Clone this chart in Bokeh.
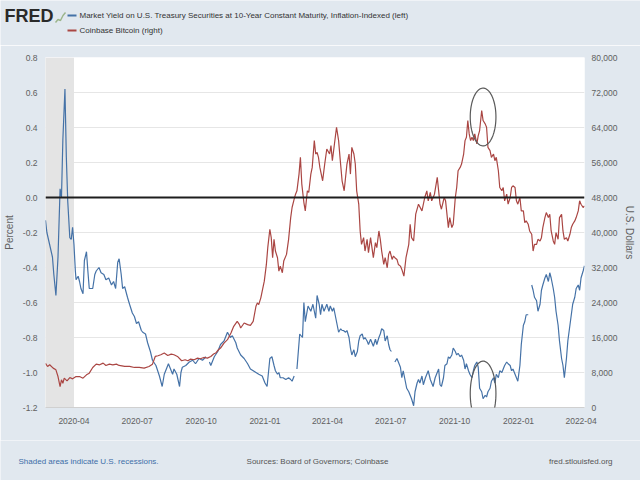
import numpy as np
import pandas as pd
from bokeh.plotting import figure
from bokeh.layouts import column
from bokeh.models import (ColumnDataSource, Range1d, LinearAxis, Span, BoxAnnotation,
                          FixedTicker, DatetimeTickFormatter, NumeralTickFormatter, PolyAnnotation)
from bokeh.core.properties import value
from bokeh.embed import file_html
from bokeh.resources import INLINE

# 10-year TIPS market yield (percent); None marks market holidays
YIELD_DATES = [
    "2020-02-20", "2020-02-22", "2020-02-26", "2020-03-01", "2020-03-03", "2020-03-06", "2020-03-09",
    "2020-03-12", "2020-03-14", "2020-03-16", "2020-03-19", "2020-03-21", "2020-03-23", "2020-03-26",
    "2020-03-28", "2020-03-30", "2020-04-01", "2020-04-03", "2020-04-04", "2020-04-07", "2020-04-09",
    "2020-04-11", "2020-04-14", "2020-04-16", "2020-04-19", "2020-04-21", "2020-04-23", "2020-04-28",
    "2020-05-01", "2020-05-03", "2020-05-07", "2020-05-10", "2020-05-14", "2020-05-17", "2020-05-21",
    "2020-05-25", "2020-05-28", "2020-05-31", "2020-06-03", "2020-06-05", "2020-06-08", "2020-06-10",
    "2020-06-13", "2020-06-15", "2020-06-17", "2020-06-20", "2020-06-24", "2020-06-27", "2020-06-30",
    "2020-07-03", "2020-07-07", "2020-07-09", "2020-07-13", "2020-07-16", "2020-07-20", "2020-07-23",
    "2020-07-28", "2020-08-02", "2020-08-06", "2020-08-09", "2020-08-12", "2020-08-15", "2020-08-18",
    "2020-08-21", "2020-08-23", "2020-08-27", "2020-08-31", "2020-09-02", "2020-09-04", "2020-09-09",
    "2020-09-14", "2020-09-19", "2020-09-23", "2020-09-28", "2020-10-03", "2020-10-08", "2020-10-12",
    "2020-10-13", "2020-10-15", "2020-10-20", "2020-10-25", "2020-10-29", "2020-11-03", "2020-11-08",
    "2020-11-12", "2020-11-15", "2020-11-20", "2020-11-22", "2020-11-27", "2020-12-02", "2020-12-07",
    "2020-12-11", "2020-12-19", "2020-12-23", "2020-12-28", "2021-01-01", "2021-01-04", "2021-01-08",
    "2021-01-11", "2021-01-14", "2021-01-16", "2021-01-19", "2021-01-21", "2021-01-23", "2021-01-27",
    "2021-01-31", "2021-02-04", "2021-02-07", "2021-02-09", "2021-02-12", "2021-02-14", "2021-02-16",
    "2021-02-20", "2021-02-24", "2021-02-26", "2021-02-28", "2021-03-04", "2021-03-08", "2021-03-11",
    "2021-03-15", "2021-03-17", "2021-03-20", "2021-03-22", "2021-03-24", "2021-03-27", "2021-03-29",
    "2021-03-31", "2021-04-03", "2021-04-05", "2021-04-08", "2021-04-10", "2021-04-12", "2021-04-15",
    "2021-04-17", "2021-04-20", "2021-04-22", "2021-04-24", "2021-04-27", "2021-04-29", "2021-05-02",
    "2021-05-04", "2021-05-06", "2021-05-09", "2021-05-11", "2021-05-14", "2021-05-16", "2021-05-18",
    "2021-05-21", "2021-05-23", "2021-05-25", "2021-05-28", "2021-05-30", "2021-06-02", "2021-06-04",
    "2021-06-06", "2021-06-09", "2021-06-11", "2021-06-14", "2021-06-16", "2021-06-18", "2021-06-21",
    "2021-06-23", "2021-06-26", "2021-06-28", "2021-06-30", "2021-07-02", "2021-07-05", "2021-07-07",
    "2021-07-10", "2021-07-12", "2021-07-15", "2021-07-17", "2021-07-19", "2021-07-22", "2021-07-24",
    "2021-07-27", "2021-07-29", "2021-07-31", "2021-08-03", "2021-08-05", "2021-08-08", "2021-08-10",
    "2021-08-12", "2021-08-15", "2021-08-17", "2021-08-20", "2021-08-22", "2021-08-24", "2021-08-27",
    "2021-08-29", "2021-08-31", "2021-09-03", "2021-09-05", "2021-09-08", "2021-09-10", "2021-09-12",
    "2021-09-15", "2021-09-17", "2021-09-20", "2021-09-22", "2021-09-24", "2021-09-27", "2021-09-29",
    "2021-10-02", "2021-10-04", "2021-10-06", "2021-10-09", "2021-10-11", "2021-10-14", "2021-10-16",
    "2021-10-18", "2021-10-21", "2021-10-23", "2021-10-26", "2021-10-28", "2021-10-30", "2021-11-02",
    "2021-11-04", "2021-11-06", "2021-11-09", "2021-11-11", "2021-11-14", "2021-11-16", "2021-11-18",
    "2021-11-21", "2021-11-23", "2021-11-26", "2021-11-28", "2021-11-30", "2021-12-03", "2021-12-05",
    "2021-12-08", "2021-12-10", "2021-12-12", "2021-12-15", "2021-12-17", "2021-12-20", "2021-12-22",
    "2021-12-24", "2021-12-27", "2021-12-29", "2021-12-31", "2022-01-03", "2022-01-05", "2022-01-08",
    "2022-01-10", "2022-01-12", "2022-01-15", "2022-01-17", "2022-01-20", "2022-01-22", "2022-01-24",
    "2022-01-27", "2022-01-29", "2022-02-01", "2022-02-03", "2022-02-05", "2022-02-08", "2022-02-10",
    "2022-02-13", "2022-02-15", "2022-02-17", "2022-02-20", "2022-02-22", "2022-02-24", "2022-02-27",
    "2022-03-01", "2022-03-04", "2022-03-06", "2022-03-08", "2022-03-11", "2022-03-13", "2022-03-16",
    "2022-03-18", "2022-03-20", "2022-03-23", "2022-03-25", "2022-03-28", "2022-03-30", "2022-04-01",
    "2022-04-04", "2022-04-06",
]
YIELD_PCT = [
    -0.13, -0.20, -0.27, -0.34, -0.44, -0.56, -0.34,
    0.05, 0.00, 0.33, 0.62, 0.23, -0.02, -0.23,
    -0.24, -0.17, -0.27, -0.42, -0.47, -0.45, -0.48,
    -0.52, -0.55, -0.36, -0.31, -0.42, -0.52, -0.52,
    -0.44, -0.42, -0.40, -0.43, -0.44, -0.47, -0.46,
    -0.50, -0.48, -0.52, -0.37, -0.35, -0.44, -0.52,
    -0.51, -0.54, -0.57, -0.61, -0.66, -0.68, -0.72,
    -0.71, -0.76, -0.77, -0.78, -0.83, -0.88, -0.93,
    -0.96, -1.02, -1.08, -1.01, -0.98, -0.95, -0.98,
    -1.01, -0.98, -1.01, -1.08, -1.00, -0.97, -0.96,
    -0.94, -0.93, -0.95, -0.92, -0.93, -0.91, None,
    -0.94, -0.96, -0.91, -0.88, -0.84, -0.82, -0.77,
    -0.80, -0.79, -0.83, -0.86, -0.90, -0.92, -0.95,
    -0.98, -1.00, -1.01, -1.02, -1.06, -1.08, -0.92,
    -0.91, -0.96, -0.99, -1.01, -1.00, -1.03, -1.03,
    -1.04, -1.03, -1.04, -1.05, -1.02, None, -0.98,
    -0.78, -0.80, -0.60, -0.71, -0.62, -0.65, -0.61,
    -0.69, -0.56, -0.61, -0.67, -0.61, -0.65, -0.63,
    -0.61, -0.65, -0.62, -0.65, -0.63, -0.67, -0.73,
    -0.77, -0.75, -0.76, -0.76, -0.77, -0.76, -0.80,
    -0.86, -0.90, -0.87, -0.91, -0.88, -0.82, -0.79,
    -0.78, -0.81, -0.80, -0.82, -0.84, -0.81, -0.83,
    -0.85, -0.81, -0.84, -0.80, -0.78, -0.75, -0.76,
    -0.82, -0.79, -0.84, -0.87, -0.88, None, -0.94,
    -0.92, -0.94, -0.97, -1.03, -0.99, -1.05, -1.09,
    -1.11, -1.13, -1.15, -1.19, -1.11, -1.06, -1.04,
    -1.06, -1.02, -1.07, -1.03, -1.01, -0.99, -1.04,
    -1.06, -1.08, -1.03, -1.01, -0.98, -1.07, -1.08,
    -1.03, -0.96, -0.95, -0.91, -0.92, -0.90, -0.86,
    -0.88, -0.90, -0.89, -0.91, -0.90, -0.93, -0.98,
    -0.95, -0.99, -1.01, -1.03, -0.99, -0.96, -0.94,
    -0.97, -1.09, -1.11, -1.15, -1.13, -1.14, -1.11,
    -1.09, -1.05, -1.03, -1.06, -1.01, -1.03, -0.99,
    -1.00, -0.98, -0.96, -0.94, -0.95, -0.96, -0.99,
    -0.98, -1.01, -1.03, -1.05, -0.96, -0.84, -0.73,
    -0.71, -0.67, -0.67, None, -0.50, -0.53, -0.57,
    -0.59, -0.65, -0.61, -0.53, -0.50, -0.46, -0.44,
    -0.48, -0.43, -0.46, -0.52, -0.57, -0.65, -0.73,
    -0.82, -0.92, -0.96, -1.03, -0.92, -0.82, -0.73,
    -0.67, -0.61, -0.57, -0.52, -0.50, -0.53, -0.46,
    -0.42, -0.39,
]

# Coinbase Bitcoin price (U.S. dollars)
BTC_DATES = [
    "2020-02-20", "2020-02-23", "2020-02-26", "2020-03-02", "2020-03-06", "2020-03-09", "2020-03-12",
    "2020-03-14", "2020-03-16", "2020-03-18", "2020-03-22", "2020-03-26", "2020-03-30", "2020-04-04",
    "2020-04-09", "2020-04-14", "2020-04-19", "2020-04-23", "2020-04-28", "2020-05-03", "2020-05-08",
    "2020-05-13", "2020-05-17", "2020-05-22", "2020-05-27", "2020-06-01", "2020-06-05", "2020-06-13",
    "2020-06-20", "2020-06-27", "2020-07-04", "2020-07-11", "2020-07-18", "2020-07-23", "2020-07-27",
    "2020-07-31", "2020-08-04", "2020-08-09", "2020-08-14", "2020-08-19", "2020-08-23", "2020-08-28",
    "2020-09-03", "2020-09-08", "2020-09-12", "2020-09-16", "2020-09-21", "2020-09-26", "2020-09-30",
    "2020-10-05", "2020-10-10", "2020-10-15", "2020-10-19", "2020-10-22", "2020-10-26", "2020-10-29",
    "2020-11-03", "2020-11-08", "2020-11-13", "2020-11-17", "2020-11-22", "2020-11-25", "2020-11-27",
    "2020-12-02", "2020-12-07", "2020-12-11", "2020-12-15", "2020-12-19", "2020-12-21", "2020-12-23",
    "2020-12-26", "2020-12-28", "2020-12-31", "2021-01-03", "2021-01-05", "2021-01-08", "2021-01-10",
    "2021-01-12", "2021-01-14", "2021-01-16", "2021-01-19", "2021-01-21", "2021-01-23", "2021-01-26",
    "2021-01-28", "2021-02-01", "2021-02-04", "2021-02-07", "2021-02-09", "2021-02-12", "2021-02-14",
    "2021-02-16", "2021-02-19", "2021-02-21", "2021-02-23", "2021-02-26", "2021-02-28", "2021-03-03",
    "2021-03-05", "2021-03-08", "2021-03-10", "2021-03-13", "2021-03-15", "2021-03-17", "2021-03-19",
    "2021-03-21", "2021-03-25", "2021-03-28", "2021-03-31", "2021-04-04", "2021-04-06", "2021-04-08",
    "2021-04-11", "2021-04-14", "2021-04-17", "2021-04-19", "2021-04-22", "2021-04-25", "2021-04-29",
    "2021-05-02", "2021-05-04", "2021-05-06", "2021-05-09", "2021-05-11", "2021-05-13", "2021-05-16",
    "2021-05-18", "2021-05-20", "2021-05-23", "2021-05-25", "2021-05-28", "2021-05-30", "2021-06-02",
    "2021-06-04", "2021-06-06", "2021-06-09", "2021-06-11", "2021-06-14", "2021-06-16", "2021-06-18",
    "2021-06-21", "2021-06-23", "2021-06-26", "2021-06-28", "2021-06-30", "2021-07-03", "2021-07-05",
    "2021-07-07", "2021-07-10", "2021-07-12", "2021-07-15", "2021-07-17", "2021-07-20", "2021-07-23",
    "2021-07-27", "2021-07-29", "2021-07-31", "2021-08-03", "2021-08-06", "2021-08-10", "2021-08-15",
    "2021-08-19", "2021-08-22", "2021-08-24", "2021-08-27", "2021-08-29", "2021-09-02", "2021-09-06",
    "2021-09-10", "2021-09-12", "2021-09-16", "2021-09-18", "2021-09-22", "2021-09-24", "2021-09-27",
    "2021-09-29", "2021-10-02", "2021-10-04", "2021-10-06", "2021-10-09", "2021-10-11", "2021-10-14",
    "2021-10-16", "2021-10-18", "2021-10-20", "2021-10-22", "2021-10-24", "2021-10-26", "2021-10-28",
    "2021-10-30", "2021-11-02", "2021-11-04", "2021-11-06", "2021-11-09", "2021-11-11", "2021-11-14",
    "2021-11-16", "2021-11-18", "2021-11-21", "2021-11-23", "2021-11-26", "2021-11-28", "2021-11-30",
    "2021-12-03", "2021-12-05", "2021-12-08", "2021-12-10", "2021-12-12", "2021-12-15", "2021-12-17",
    "2021-12-20", "2021-12-22", "2021-12-24", "2021-12-27", "2021-12-29", "2021-12-31", "2022-01-03",
    "2022-01-05", "2022-01-08", "2022-01-10", "2022-01-12", "2022-01-15", "2022-01-17", "2022-01-20",
    "2022-01-22", "2022-01-24", "2022-01-27", "2022-01-29", "2022-02-01", "2022-02-03", "2022-02-05",
    "2022-02-08", "2022-02-10", "2022-02-13", "2022-02-15", "2022-02-17", "2022-02-20", "2022-02-22",
    "2022-02-24", "2022-02-27", "2022-03-01", "2022-03-04", "2022-03-06", "2022-03-08", "2022-03-11",
    "2022-03-13", "2022-03-16", "2022-03-18", "2022-03-20", "2022-03-23", "2022-03-25", "2022-03-28",
    "2022-03-30", "2022-04-01", "2022-04-04", "2022-04-06",
]
BTC_USD = [
    10100, 9380, 9760, 9000, 8610, 7080, 4790,
    6320, 5550, 6700, 6090, 6850, 6550, 7080,
    7080, 6700, 7470, 7850, 9150, 9910, 9760,
    10140, 9610, 9910, 9760, 9910, 9610, 9380,
    9380, 9150, 9150, 9000, 9380, 9910, 11670,
    11830, 12050, 12440, 11900, 12210, 12050, 11670,
    10680, 10910, 10680, 11060, 10910, 11290, 11140,
    11440, 11290, 11670, 12210, 12440, 13200, 13580,
    14730, 15500, 17030, 18560, 19700, 19000, 18170,
    19320, 18940, 18780, 19700, 23140, 23910, 23530,
    25060, 26590, 28880, 32700, 36530, 40730, 38820,
    34230, 38440, 35760, 34230, 31170, 32320, 30790,
    33470, 35000, 38440, 43410, 45710, 47620, 48760,
    49530, 53350, 57180, 51060, 46850, 44940, 49530,
    49150, 53350, 54880, 61000, 57940, 58320, 57180,
    54880, 51820, 55650, 59090, 57940, 59850, 56410,
    60240, 64060, 61000, 57180, 51820, 49530, 55650,
    57940, 53350, 59470, 57940, 55650, 49530, 46470,
    40350, 37290, 38820, 35760, 38440, 35380, 38820,
    36530, 34230, 37680, 36530, 40350, 38440, 35760,
    32700, 34230, 31940, 35000, 35760, 33850, 34620,
    34230, 33850, 32700, 32320, 31560, 30030, 34230,
    37290, 41880, 38820, 38060, 44180, 46470, 44940,
    48000, 49530, 47240, 49150, 47240, 48760, 52590,
    46470, 45320, 48000, 47240, 41120, 43410, 41120,
    41880, 48000, 50290, 54120, 54880, 55650, 57940,
    61000, 61770, 65590, 62530, 61000, 61770, 61000,
    62530, 60240, 62150, 63300, 67880, 65590, 64830,
    64060, 59470, 58710, 57180, 57940, 56410, 57180,
    54120, 50290, 49530, 50290, 47240, 48760, 46470,
    48000, 50290, 50680, 50290, 47240, 46470, 48000,
    44940, 44940, 42260, 42650, 41880, 40350, 39590,
    35760, 37290, 37290, 38440, 38060, 38820, 41120,
    43410, 44560, 43410, 44180, 40350, 38060, 37290,
    39970, 38440, 43410, 44180, 40350, 38440, 38820,
    38060, 39590, 41120, 41880, 42650, 43410, 44940,
    47240, 46470, 45710, 46090,
]

YIELD_TICKS = [-1.2, -1.0, -0.8, -0.6, -0.4, -0.2, 0.0, 0.2, 0.4, 0.6, 0.8]
BTC_TICKS = [0, 8000, 16000, 24000, 32000, 40000, 48000, 56000, 64000, 72000, 80000]
DATE_TICKS = ["2020-04-01", "2020-07-01", "2020-10-01", "2021-01-01", "2021-04-01",
              "2021-07-01", "2021-10-01", "2022-01-01", "2022-04-01"]
RECESSION = ("2020-02-01", "2020-04-01")
X_START, X_END = "2020-02-20", "2022-04-06"

SERIES_NAMES = ["Market Yield on U.S. Treasury Securities at 10-Year Constant Maturity, Inflation-Indexed (left)",
                "Coinbase Bitcoin (right)"]
FOOTER = ["Shaded areas indicate U.S. recessions.", "Sources: Board of Governors; Coinbase",
          "fred.stlouisfed.org"]

# hand-drawn rings: (centre date, centre percent, half-width days, half-height percent)
RINGS = [("2021-11-11", 0.46, 18.5, 0.165), ("2021-11-11", -1.12, 18.5, 0.185)]

BLUE = "#4572a7"
RED = "#aa4643"
BG = "#e1e8ef"
FONT = "Liberation Sans"
W = 640
HEAD_H, MAIN_H, FOOT_H = 45, 395, 40


def ms(d):
    return pd.Timestamp(d).value / 1e6


def strip(h):
    """A borderless figure in pixel coordinates (y grows downward) for header/footer text."""
    f = figure(width=W, height=h, output_backend="svg", toolbar_location=None,
               x_range=Range1d(0, W), y_range=Range1d(h, 0),
               x_axis_location=None, y_axis_location=None, min_border=0)
    f.frame_align = False
    f.grid.visible = False
    f.outline_line_color = None
    f.background_fill_color = BG
    f.border_fill_color = BG
    return f


# ---- header: logo and legend
head = strip(HEAD_H)
head.text(x=[4], y=[15], text=["FRED"], text_font=value(FONT), text_font_style="bold",
          text_font_size="18px", text_color="#2a2a2a", text_baseline="middle")
head.line(x=[55, 57.5, 60, 62.5, 65], y=[22, 19, 20, 15, 12], color="#9bb58a", line_width=1.4)
head.segment(x0=[67, 67], y0=[15, 30], x1=[76, 76], y1=[15, 30], color=[BLUE, RED], line_width=2)
head.text(x=[79, 79], y=[15, 30], text=SERIES_NAMES, text_font=value(FONT),
          text_font_size="8px", text_color="#333333", text_baseline="middle")

# ---- main chart
ysrc = ColumnDataSource(dict(date=pd.to_datetime(YIELD_DATES),
                             pct=np.array(YIELD_PCT, dtype=float)))
bsrc = ColumnDataSource(dict(date=pd.to_datetime(BTC_DATES),
                             usd=np.array(BTC_USD, dtype=float)))

p = figure(width=W, height=MAIN_H, x_axis_type="datetime", output_backend="svg",
           toolbar_location=None,
           x_range=Range1d(ms(X_START), ms(X_END)), y_range=Range1d(-1.2, 0.8),
           min_border_left=43, min_border_right=56, min_border_top=12, min_border_bottom=33)
p.frame_align = False
p.extra_y_ranges = {"btc": Range1d(0, 80000)}
p.background_fill_color = "white"
p.border_fill_color = BG
p.outline_line_color = None

p.add_layout(BoxAnnotation(left=ms(RECESSION[0]), right=ms(RECESSION[1]),
                           fill_color="#e4e4e4", fill_alpha=1.0, line_color=None,
                           level="underlay"))

p.xgrid.visible = False
p.ygrid.ticker = FixedTicker(ticks=YIELD_TICKS)
p.ygrid.grid_line_color = "#e6e6e6"
p.ygrid.grid_line_width = 1


def style_axis(ax):
    ax.axis_line_color = None
    ax.major_tick_line_color = None
    ax.minor_tick_line_color = None
    ax.major_tick_out = 0
    ax.major_tick_in = 0
    ax.minor_tick_out = 0
    ax.major_label_text_font = FONT
    ax.major_label_text_font_size = "8.5px"
    ax.major_label_text_color = "#606060"
    ax.axis_label_text_font = FONT
    ax.axis_label_text_font_size = "10px"
    ax.axis_label_text_font_style = "normal"
    ax.axis_label_text_color = "#606060"


xa = p.xaxis[0]
style_axis(xa)
xa.ticker = FixedTicker(ticks=[ms(d) for d in DATE_TICKS])
xa.formatter = DatetimeTickFormatter(years="%Y-%m", months="%Y-%m", days="%Y-%m",
                                     hours="%Y-%m", minutes="%Y-%m", seconds="%Y-%m",
                                     milliseconds="%Y-%m", microseconds="%Y-%m")
xa.axis_line_color = "#d0d0d0"
xa.major_label_standoff = 10

ya = p.yaxis[0]
style_axis(ya)
ya.ticker = FixedTicker(ticks=YIELD_TICKS)
ya.formatter = NumeralTickFormatter(format="0.0")
ya.major_label_standoff = 8
ya.axis_label = "Percent"
ya.axis_label_standoff = 5

ra = LinearAxis(y_range_name="btc", ticker=FixedTicker(ticks=BTC_TICKS),
                formatter=NumeralTickFormatter(format="0,0"))
style_axis(ra)
ra.major_label_standoff = 7
ra.axis_label = "U.S. Dollars"
ra.axis_label_standoff = 4
p.add_layout(ra, "right")

p.add_layout(Span(location=0, dimension="width", line_color="#1e1e1e", line_width=2))

p.line("date", "pct", source=ysrc, color=BLUE, line_width=1.2)
p.line("date", "usd", source=bsrc, color=RED, line_width=1.2, y_range_name="btc")

t = np.linspace(0, 2 * np.pi, 80)
for d, cy, hw, hh in RINGS:
    cx = ms(d)
    p.add_layout(PolyAnnotation(xs=list(cx + hw * 86400000 * np.cos(t)),
                                ys=list(cy + hh * np.sin(t)),
                                fill_alpha=0, line_color="#5a5a5a", line_alpha=1.0,
                                line_width=1.2))

# ---- footer
foot = strip(FOOT_H)
foot.text(x=[18, 317, 612], y=[21, 21, 21], text=FOOTER, text_font=value(FONT),
          text_font_size="8px", text_color=["#3d6ea8", "#555555", "#555555"],
          text_align=["left", "center", "right"], text_baseline="middle")

layout = column(head, p, foot, spacing=0)
open("out.html", "w").write(file_html(layout, INLINE))
